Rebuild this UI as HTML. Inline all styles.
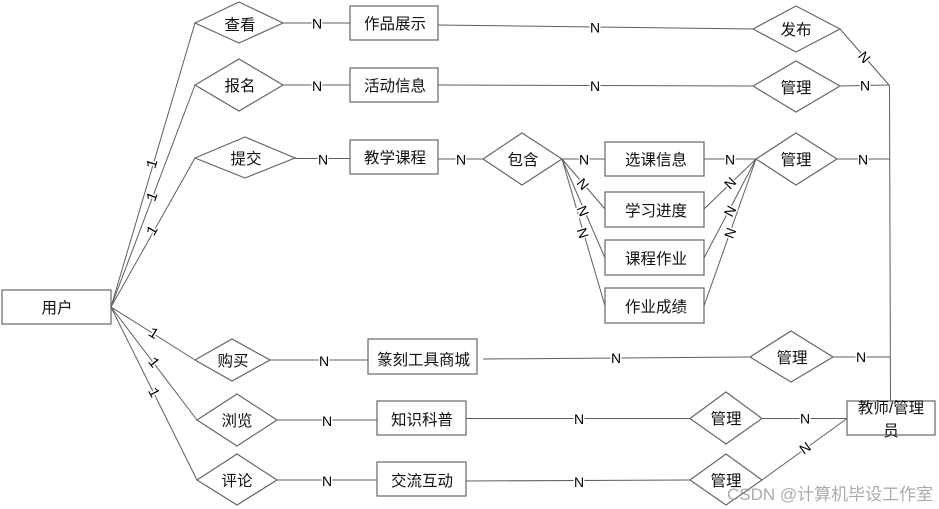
<!DOCTYPE html>
<html><head><meta charset="utf-8"><style>
html,body{margin:0;padding:0;background:#fff;overflow:hidden}
svg{display:block}
.l line,.l polyline{stroke:#5f5f5f;stroke-width:1;fill:none}
.s rect,.s polygon{fill:#fff;stroke:#666;stroke-width:1.2}
.t text{font-family:"Liberation Sans","WenQuanYi Zen Hei","Noto Sans CJK SC",sans-serif;font-size:15.5px;fill:#111;text-anchor:middle}
.n text{font-family:"Liberation Sans",sans-serif;font-size:14px;fill:#000;text-anchor:middle;dominant-baseline:central;stroke:#fff;stroke-width:3px;paint-order:stroke}
.n text.o{font-family:"Liberation Mono",monospace;font-size:15px}
.w{font-family:"Liberation Sans","WenQuanYi Zen Hei","Noto Sans CJK SC",sans-serif;font-size:17px;fill:#8f8f8f;fill-opacity:.75}
</style></head><body>
<svg width="939" height="509" viewBox="0 0 939 509" xmlns="http://www.w3.org/2000/svg">
<g class="l">
<line x1="111" y1="307" x2="195" y2="23"/><line x1="111" y1="307" x2="195" y2="85"/><line x1="111" y1="307" x2="195" y2="158"/>
<line x1="111" y1="307" x2="195" y2="360"/><line x1="111" y1="307" x2="197" y2="420"/><line x1="111" y1="307" x2="197" y2="480"/>
<line x1="283" y1="23" x2="350" y2="23"/><line x1="283" y1="85" x2="350" y2="85"/><line x1="295" y1="158.500" x2="350" y2="158.500"/>
<line x1="438" y1="159" x2="483" y2="159"/>
<line x1="438" y1="25" x2="753" y2="29"/><line x1="438" y1="85" x2="753" y2="86"/>
<line x1="562" y1="159" x2="605" y2="159"/><line x1="562" y1="159" x2="605" y2="209"/><line x1="562" y1="159" x2="605" y2="258"/><line x1="562" y1="159" x2="605" y2="306"/>
<line x1="704" y1="159" x2="756" y2="159"/><line x1="704" y1="209" x2="756" y2="159"/><line x1="704" y1="258" x2="756" y2="159"/><line x1="704" y1="306" x2="756" y2="159"/>
<line x1="837" y1="159" x2="890" y2="159"/><line x1="840" y1="29" x2="889" y2="85"/><line x1="840" y1="86" x2="889" y2="85"/>
<line x1="889.500" y1="85" x2="890.500" y2="401"/>
<line x1="270" y1="360" x2="368" y2="360"/><line x1="483" y1="359" x2="750" y2="357"/><line x1="833" y1="357" x2="890" y2="357"/>
<line x1="277" y1="420" x2="377" y2="420"/><line x1="277" y1="480" x2="377" y2="480"/>
<line x1="466" y1="418.500" x2="690" y2="418.500"/><line x1="466" y1="481" x2="690" y2="480"/>
<line x1="762" y1="418.500" x2="847" y2="418.500"/><line x1="762" y1="480" x2="847" y2="418.500"/>
</g>
<g class="s">
<rect x="2" y="290" width="109" height="34"/>
<rect x="350" y="6" width="88" height="34"/><rect x="350" y="68" width="88" height="34"/><rect x="350" y="140" width="88" height="34"/>
<rect x="605" y="142" width="99" height="34"/><rect x="605" y="192" width="99" height="35"/><rect x="605" y="240" width="99" height="35"/><rect x="605" y="288" width="99" height="35"/>
<rect x="368" y="339" width="109" height="35"/><rect x="377" y="401" width="89" height="34"/><rect x="377" y="462" width="89" height="34"/><rect x="847" y="401" width="88" height="34"/>
<polygon points="195,23 239,2 283,23 239,43"/>
<polygon points="195,85 239,59 283,85 239,111"/>
<polygon points="195,158 245,137 295,158 245,178"/>
<polygon points="483,159 522,133 562,159 522,185"/>
<polygon points="753,29 796,6 840,29 796,52"/>
<polygon points="753,86 796,61 840,86 796,112"/>
<polygon points="756,159 796,133 837,159 796,185"/>
<polygon points="750,357 791,331 833,357 791,382"/>
<polygon points="690,418.500 726,392 762,418.500 726,444"/>
<polygon points="690,480 726,454 762,480 726,505"/>
<polygon points="195,360 232,339 270,360 232,381"/>
<polygon points="197,420 237,394 277,420 237,446"/>
<polygon points="197,480 237,454 277,480 237,505"/>
</g>
<g class="t">
<text x="57" y="313">用户</text>
<text x="395" y="29">作品展示</text><text x="395" y="91">活动信息</text><text x="395" y="163">教学课程</text>
<text x="656" y="165">选课信息</text><text x="656" y="216">学习进度</text><text x="656" y="264">课程作业</text><text x="656" y="312">作业成绩</text>
<text x="423.500" y="365">篆刻工具商城</text><text x="422" y="425">知识科普</text><text x="422" y="486">交流互动</text>
<text x="891" y="413">教师/管理</text><text x="891" y="436">员</text>
<text x="240" y="30">查看</text><text x="240" y="91">报名</text><text x="246" y="164">提交</text><text x="523" y="165">包含</text>
<text x="796" y="35">发布</text><text x="796" y="93">管理</text><text x="796" y="165">管理</text><text x="792" y="363">管理</text>
<text x="726" y="424">管理</text><text x="726" y="486">管理</text>
<text x="233" y="366">购买</text><text x="237" y="426">浏览</text><text x="237" y="486">评论</text>
</g>
<g class="n">
<text x="317" y="23.500">N</text><text x="317" y="86">N</text><text x="323" y="159.500">N</text><text x="461" y="159.500">N</text>
<text x="595" y="27.500">N</text><text x="595" y="86">N</text><text x="584" y="159.500">N</text><text x="730" y="159.500">N</text><text x="863" y="159.500">N</text><text x="865" y="85.500">N</text>
<text x="324" y="361">N</text><text x="616" y="358">N</text><text x="861" y="357">N</text>
<text x="327" y="421">N</text><text x="327" y="481">N</text><text x="579" y="419">N</text><text x="579" y="482">N</text><text x="805" y="418.500">N</text>
<text transform="translate(864.500 57) rotate(50)">N</text>
<text transform="translate(583 184) rotate(50)">N</text>
<text transform="translate(583 211) rotate(68)">N</text>
<text transform="translate(583 233) rotate(72)">N</text>
<text transform="translate(730 183) rotate(-45)">N</text>
<text transform="translate(730 211) rotate(-62)">N</text>
<text transform="translate(730 233) rotate(-70)">N</text>
<text transform="translate(805 448) rotate(-36)">N</text>
<text class="o" transform="translate(153 164) rotate(-73)">1</text>
<text class="o" transform="translate(153 197) rotate(-69)">1</text>
<text class="o" transform="translate(153 231) rotate(-60)">1</text>
<text class="o" transform="translate(153 334) rotate(32)">1</text>
<text class="o" transform="translate(153 363) rotate(52)">1</text>
<text class="o" transform="translate(153 393) rotate(62)">1</text>
</g>
<text class="w" x="727" y="500">CSDN @计算机毕设工作室</text>
</svg>
</body></html>
